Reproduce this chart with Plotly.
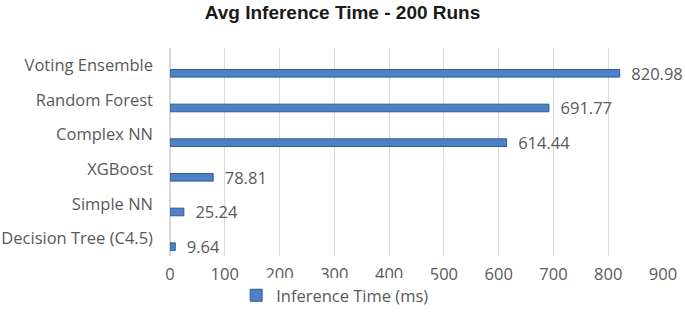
import plotly.graph_objects as go

categories = ["Decision Tree (C4.5)", "Simple NN", "XGBoost", "Complex NN", "Random Forest", "Voting Ensemble"]
values = [9.64, 25.24, 78.81, 614.44, 691.77, 820.98]
value_labels = ["9.64", "25.24", "78.81", "614.44", "691.77", "820.98"]
x_ticks = [0, 100, 200, 300, 400, 500, 600, 700, 800, 900]

FONT = "Open Sans, Lato, sans-serif"
GREY = "#595959"
FS = 16.5

fig = go.Figure()
fig.add_trace(go.Bar(
    y=categories, x=values, orientation="h",
    name="Inference Time (ms)",
    width=0.22, offset=-0.34,
    marker=dict(color="#4F81C7", line=dict(color="#2E5A9A", width=1)),
    text=value_labels, texttemplate="\u00a0\u00a0%{text}",
    textposition="outside", cliponaxis=False,
    constraintext="none",
    textfont=dict(family=FONT, size=FS, color=GREY),
))

fig.update_layout(
    width=685, height=325,
    margin=dict(l=170, r=22, t=48, b=67),
    paper_bgcolor="white", plot_bgcolor="white",
    title=dict(text="<b>Avg Inference Time - 200 Runs</b>", x=0.5, xref="container",
               xanchor="center", y=0.962, yanchor="middle",
               font=dict(family="Liberation Sans, Arial, sans-serif", size=19, color="#1a1a1a")),
    showlegend=True,
    legend=dict(orientation="h", x=0.335, xanchor="center", y=-0.19, yanchor="middle",
                itemwidth=30,
                font=dict(family=FONT, size=FS, color=GREY)),
    xaxis=dict(range=[0, 900], tickvals=x_ticks, showgrid=True, gridcolor="#D9D9D9",
               zeroline=True, zerolinecolor="#D9D9D9", showline=False, ticks="",
               ticklabelstandoff=6, automargin=False,
               tickfont=dict(family=FONT, size=FS, color=GREY)),
    yaxis=dict(categoryorder="array", categoryarray=categories, showgrid=False,
               showline=False, ticks="", ticklabelstandoff=16, automargin=False,
               tickfont=dict(family=FONT, size=FS, color=GREY)),
)

fig.write_html("out.html", config={"displayModeBar": False},
               post_script="document.body.style.margin='0';")
